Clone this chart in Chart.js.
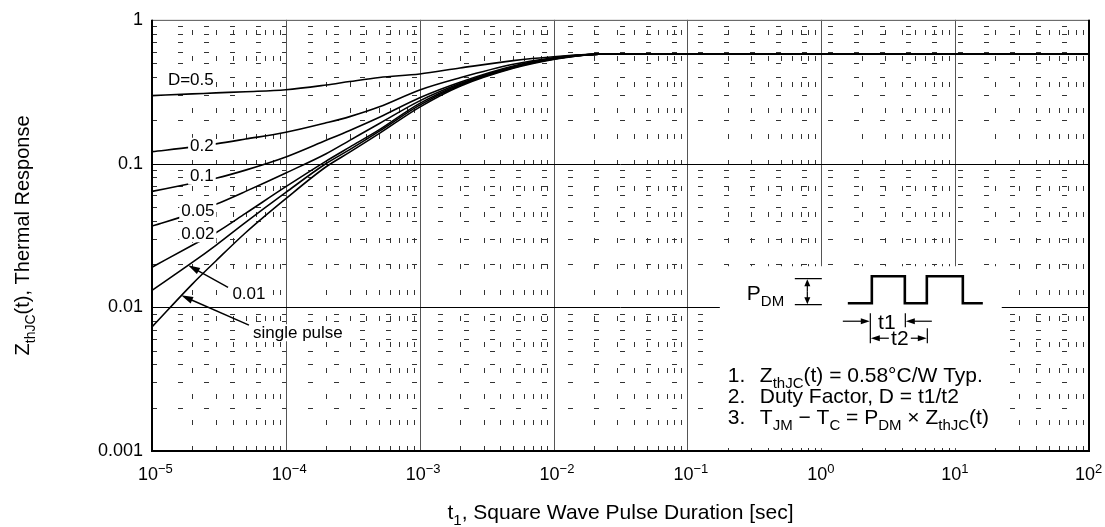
<!DOCTYPE html>
<html><head>
<meta charset="UTF-8">
<title>Transient Thermal Response</title>
<script src="https://cdn.jsdelivr.net/npm/chart.js@4.4.0/dist/chart.umd.min.js"></script>
<style>
    html, body { margin: 0; padding: 0; background: #fff; }
    #wrap { width: 1105px; height: 527px; }
</style>
</head>
<body>
<div id="wrap"><canvas id="thermal" width="1105" height="527"></canvas></div>
<script>
// pulse duration t1 [sec]
const pulseTimes = [1e-5, 2e-5, 3e-5, 5e-5, 1e-4, 2e-4, 3e-4, 5e-4, 1e-3, 2e-3, 5e-3, 1e-2, 2e-2, 5e-2, 1e-1, 1, 10, 100];

// Z_thJC(t), one array per duty factor
const zD50    = [0.297, 0.305, 0.310, 0.316, 0.326, 0.352, 0.372, 0.397, 0.420, 0.462, 0.520, 0.553, 0.575, 0.58, 0.58, 0.58, 0.58, 0.58];
const zD20    = [0.121, 0.130, 0.137, 0.148, 0.165, 0.192, 0.212, 0.248, 0.325, 0.395, 0.490, 0.545, 0.575, 0.58, 0.58, 0.58, 0.58, 0.58];
const zD10    = [0.064, 0.073, 0.079, 0.090, 0.111, 0.145, 0.170, 0.210, 0.287, 0.368, 0.477, 0.540, 0.575, 0.58, 0.58, 0.58, 0.58, 0.58];
const zD05    = [0.0367, 0.045, 0.052, 0.064, 0.086, 0.117, 0.145, 0.190, 0.273, 0.360, 0.472, 0.537, 0.575, 0.58, 0.58, 0.58, 0.58, 0.58];
const zD02    = [0.019, 0.027, 0.033, 0.045, 0.069, 0.104, 0.130, 0.172, 0.262, 0.355, 0.468, 0.535, 0.575, 0.58, 0.58, 0.58, 0.58, 0.58];
const zD01    = [0.0131, 0.0205, 0.027, 0.039, 0.063, 0.100, 0.125, 0.168, 0.255, 0.350, 0.464, 0.533, 0.575, 0.58, 0.58, 0.58, 0.58, 0.58];
const zSingle = [0.0073, 0.0145, 0.021, 0.033, 0.057, 0.095, 0.120, 0.162, 0.247, 0.345, 0.460, 0.530, 0.575, 0.58, 0.58, 0.58, 0.58, 0.58];

const seriesNames = ['D=0.5', '0.2', '0.1', '0.05', '0.02', '0.01', 'single pulse'];
const seriesValues = [zD50, zD20, zD10, zD05, zD02, zD01, zSingle];

const yTickLabels = ['0.001', '0.01', '0.1', '1'];
const xRange = [1e-5, 100];
const yRange = [0.001, 1];

// where the curve labels sit, in data units (t, Z)
const labelAnchors = [
    [1.95e-5, 0.383], [2.36e-5, 0.133], [2.36e-5, 0.0825], [2.2e-5, 0.0472],
    [2.2e-5, 0.0327], [5.3e-5, 0.0125], [1.23e-4, 0.0067]
];

const FONT = '"Liberation Sans", Arial, Helvetica, sans-serif';

function decadeValues(lo, hi, minor) {
    const out = [];
    for (let e = Math.round(Math.log10(lo)); e <= Math.round(Math.log10(hi)); e++) {
        if (!minor) { out.push(Math.pow(10, e)); continue; }
        for (let k = 2; k <= 9; k++) {
            const v = k * Math.pow(10, e);
            if (v < hi) out.push(v);
        }
    }
    return out;
}

// text with sub/superscript pieces: [text, 'n'|'sub'|'sup']
function richText(ctx, parts, x, y, size) {
    let cx = x;
    parts.forEach(([txt, kind]) => {
        let fs = size, dy = 0;
        if (kind === 'sub') { fs = Math.round(size * 0.72); dy = size * 0.28; }
        if (kind === 'sup') { fs = Math.round(size * 0.7); dy = -size * 0.4; }
        ctx.font = fs + 'px ' + FONT;
        ctx.fillText(txt, cx, y + dy);
        cx += ctx.measureText(txt).width;
    });
    return cx - x;
}

function richWidth(ctx, parts, size) {
    let w = 0;
    parts.forEach(([txt, kind]) => {
        let fs = size;
        if (kind === 'sub') fs = Math.round(size * 0.72);
        if (kind === 'sup') fs = Math.round(size * 0.7);
        ctx.font = fs + 'px ' + FONT;
        w += ctx.measureText(txt).width;
    });
    return w;
}

function arrow(ctx, x1, y1, x2, y2, len, half) {
    const ang = Math.atan2(y2 - y1, x2 - x1);
    ctx.beginPath();
    ctx.moveTo(x1, y1);
    ctx.lineTo(x2 - Math.cos(ang) * len * 0.8, y2 - Math.sin(ang) * len * 0.8);
    ctx.stroke();
    ctx.beginPath();
    ctx.moveTo(x2, y2);
    ctx.lineTo(x2 - Math.cos(ang) * len - Math.sin(ang) * half, y2 - Math.sin(ang) * len + Math.cos(ang) * half);
    ctx.lineTo(x2 - Math.cos(ang) * len + Math.sin(ang) * half, y2 - Math.sin(ang) * len - Math.cos(ang) * half);
    ctx.closePath();
    ctx.fill();
}

const decor = {
    id: 'decor',
    beforeDatasetsDraw(chart) {
        const { ctx, chartArea: a, scales: { x, y } } = chart;
        ctx.save();
        // dotted minor grid
        ctx.strokeStyle = '#333';
        ctx.lineWidth = 1;
        ctx.setLineDash([5, 21]);
        decadeValues(yRange[0], yRange[1], true).forEach(v => {
            const py = Math.round(y.getPixelForValue(v)) + 0.5;
            ctx.beginPath(); ctx.moveTo(a.left, py); ctx.lineTo(a.right, py); ctx.stroke();
        });
        decadeValues(xRange[0], xRange[1], true).forEach(v => {
            const px = Math.round(x.getPixelForValue(v)) + 0.5;
            ctx.beginPath(); ctx.moveTo(px, a.bottom); ctx.lineTo(px, a.top); ctx.stroke();
        });
        ctx.setLineDash([]);
        // decade lines
        ctx.strokeStyle = '#555';
        decadeValues(xRange[0], xRange[1], false).forEach(v => {
            const px = Math.round(x.getPixelForValue(v)) + 0.5;
            ctx.beginPath(); ctx.moveTo(px, a.top); ctx.lineTo(px, a.bottom); ctx.stroke();
        });
        ctx.strokeStyle = '#000';
        decadeValues(yRange[0], yRange[1], false).forEach(v => {
            const py = Math.round(y.getPixelForValue(v)) + 0.5;
            ctx.beginPath(); ctx.moveTo(a.left, py); ctx.lineTo(a.right, py); ctx.stroke();
        });
        ctx.restore();
    },
    afterDatasetsDraw(chart) {
        const { ctx, chartArea: a, scales: { x, y } } = chart;
        ctx.save();
        ctx.fillStyle = '#000';
        ctx.strokeStyle = '#000';

        // curve labels on white
        ctx.font = '17px ' + FONT;
        ctx.textBaseline = 'middle';
        ctx.textAlign = 'center';
        seriesNames.forEach((name, i) => {
            const px = x.getPixelForValue(labelAnchors[i][0]);
            const py = y.getPixelForValue(labelAnchors[i][1]);
            const w = ctx.measureText(name).width;
            ctx.fillStyle = '#fff';
            ctx.fillRect(px - w / 2 - 2, py - 8, w + 4, 17);
            ctx.fillStyle = '#000';
            ctx.fillText(name, px, py + 1);
        });

        // leader arrows for 0.01 and single pulse
        ctx.lineWidth = 1.4;
        const a1 = [x.getPixelForValue(3.7e-5), y.getPixelForValue(0.01377), x.getPixelForValue(1.86e-5), y.getPixelForValue(0.0196)];
        const a2 = [x.getPixelForValue(5.3e-5), y.getPixelForValue(0.0075), x.getPixelForValue(1.65e-5), y.getPixelForValue(0.0121)];
        arrow(ctx, a1[0], a1[1], a1[2], a1[3], 12, 3.5);
        arrow(ctx, a2[0], a2[1], a2[2], a2[3], 12, 3.5);

        // inset box with the pulse train and notes
        const bx = x.getPixelForValue(0.1746), by = y.getPixelForValue(0.0193);
        const bx2 = x.getPixelForValue(22.3), by2 = a.bottom - 3;
        ctx.fillStyle = '#fff';
        ctx.fillRect(bx, by, bx2 - bx, by2 - by);
        ctx.fillStyle = '#000';

        ctx.textAlign = 'left';
        ctx.textBaseline = 'alphabetic';
        richText(ctx, [['P', 'n'], ['DM', 'sub']], bx + 27, by + 34, 21);

        ctx.lineWidth = 1.2;
        ctx.beginPath();
        ctx.moveTo(bx + 75, by + 12.5); ctx.lineTo(bx + 102, by + 12.5);
        ctx.moveTo(bx + 75, by + 38.5); ctx.lineTo(bx + 102, by + 38.5);
        ctx.stroke();
        arrow(ctx, bx + 87.5, by + 25, bx + 87.5, by + 13, 7, 3);
        arrow(ctx, bx + 87.5, by + 25, bx + 87.5, by + 38, 7, 3);

        ctx.lineWidth = 2.6;
        ctx.lineJoin = 'miter';
        ctx.beginPath();
        ctx.moveTo(bx + 128, by + 37);
        ctx.lineTo(bx + 152, by + 37); ctx.lineTo(bx + 152, by + 10);
        ctx.lineTo(bx + 185, by + 10); ctx.lineTo(bx + 185, by + 37);
        ctx.lineTo(bx + 207, by + 37); ctx.lineTo(bx + 207, by + 10);
        ctx.lineTo(bx + 243, by + 10); ctx.lineTo(bx + 243, by + 37);
        ctx.lineTo(bx + 263, by + 37);
        ctx.stroke();

        ctx.lineWidth = 1.2;
        ctx.beginPath();
        ctx.moveTo(bx + 150.5, by + 47); ctx.lineTo(bx + 150.5, by + 77);
        ctx.moveTo(bx + 185.5, by + 47); ctx.lineTo(bx + 185.5, by + 61);
        ctx.moveTo(bx + 207.5, by + 62); ctx.lineTo(bx + 207.5, by + 77);
        ctx.stroke();
        arrow(ctx, bx + 123, by + 55, bx + 150, by + 55, 9, 3);
        arrow(ctx, bx + 212, by + 55, bx + 186, by + 55, 9, 3);
        arrow(ctx, bx + 170, by + 72, bx + 151, by + 72, 9, 3);
        arrow(ctx, bx + 190, by + 72, bx + 207, by + 72, 9, 3);

        ctx.font = '21px ' + FONT;
        ctx.textAlign = 'center';
        ctx.textBaseline = 'middle';
        ctx.fillStyle = '#fff';
        ctx.fillRect(bx + 169, by + 64, 22, 17);
        ctx.fillStyle = '#000';
        ctx.fillText('t1', bx + 167, by + 57);
        ctx.fillText('t2', bx + 180, by + 73);

        ctx.textAlign = 'left';
        ctx.textBaseline = 'alphabetic';
        const notes = [
            [['Z', 'n'], ['thJC', 'sub'], ['(t) = 0.58\u00B0C/W Typ.', 'n']],
            [['Duty Factor, D = t1/t2', 'n']],
            [['T', 'n'], ['JM', 'sub'], [' \u2212 T', 'n'], ['C', 'sub'], [' = P', 'n'], ['DM', 'sub'], [' \u00D7 Z', 'n'], ['thJC', 'sub'], ['(t)', 'n']]
        ];
        notes.forEach((parts, i) => {
            const ly = by + 116 + i * 21;
            ctx.font = '21px ' + FONT;
            ctx.fillText((i + 1) + '.', bx + 8, ly);
            richText(ctx, parts, bx + 40, ly, 21);
        });

        // frame
        ctx.lineWidth = 1;
        ctx.strokeStyle = '#888';
        ctx.beginPath(); ctx.moveTo(a.left, a.top + 0.5); ctx.lineTo(a.right, a.top + 0.5); ctx.stroke();
        ctx.strokeStyle = '#000';
        ctx.lineWidth = 2;
        ctx.beginPath();
        ctx.moveTo(a.left, a.top); ctx.lineTo(a.left, a.bottom);
        ctx.lineTo(a.right, a.bottom); ctx.lineTo(a.right, a.top);
        ctx.stroke();

        // x tick labels 10^n
        ctx.textAlign = 'left';
        ctx.textBaseline = 'alphabetic';
        decadeValues(xRange[0], xRange[1], false).forEach(v => {
            const e = Math.round(Math.log10(v));
            const px = x.getPixelForValue(v);
            ctx.font = '18px ' + FONT;
            const w1 = ctx.measureText('10').width;
            const expTxt = e < 0 ? '\u2212' + Math.abs(e) : String(e);
            richText(ctx, [['10', 'n'], [expTxt, 'sup']], px - w1 / 2 - 4, a.bottom + 29, 18);
        });

        // axis titles
        const xt = [['t', 'n'], ['1', 'sub'], [', Square Wave Pulse Duration [sec]', 'n']];
        const xw = richWidth(ctx, xt, 21);
        richText(ctx, xt, (a.left + a.right) / 2 - xw / 2, 519, 21);

        const yt = [['Z', 'n'], ['thJC', 'sub'], ['(t), Thermal Response', 'n']];
        const yw = richWidth(ctx, yt, 20);
        ctx.translate(29, (a.top + a.bottom) / 2);
        ctx.rotate(-Math.PI / 2);
        richText(ctx, yt, -yw / 2, 0, 20);
        ctx.restore();
    }
};

new Chart(document.getElementById('thermal'), {
    type: 'line',
    data: {
        datasets: seriesValues.map((vals, i) => ({
            label: seriesNames[i],
            data: pulseTimes.map((t, j) => ({ x: t, y: vals[j] })),
            borderColor: '#000',
            borderWidth: 1.6,
            pointRadius: 0,
            fill: false,
            cubicInterpolationMode: 'monotone'
        }))
    },
    options: {
        responsive: false,
        animation: false,
        layout: { padding: { left: 0, right: 16, top: 19, bottom: 0 } },
        plugins: { legend: { display: false }, tooltip: { enabled: false } },
        scales: {
            x: {
                type: 'logarithmic',
                min: xRange[0],
                max: xRange[1],
                grid: { display: false, drawTicks: false },
                border: { display: false },
                ticks: { display: false },
                afterFit: s => { s.height = 76; }
            },
            y: {
                type: 'logarithmic',
                min: yRange[0],
                max: yRange[1],
                grid: { display: false, drawTicks: false },
                border: { display: false },
                ticks: {
                    autoSkip: false,
                    padding: 9,
                    color: '#000',
                    font: { family: FONT, size: 18 },
                    callback: v => {
                        const i = yTickLabels.findIndex(s => Math.abs(parseFloat(s) - v) < v * 1e-6);
                        return i >= 0 ? yTickLabels[i] : '';
                    }
                },
                afterFit: s => { s.width = 152; }
            }
        }
    },
    plugins: [decor]
});
</script>
</body></html>
